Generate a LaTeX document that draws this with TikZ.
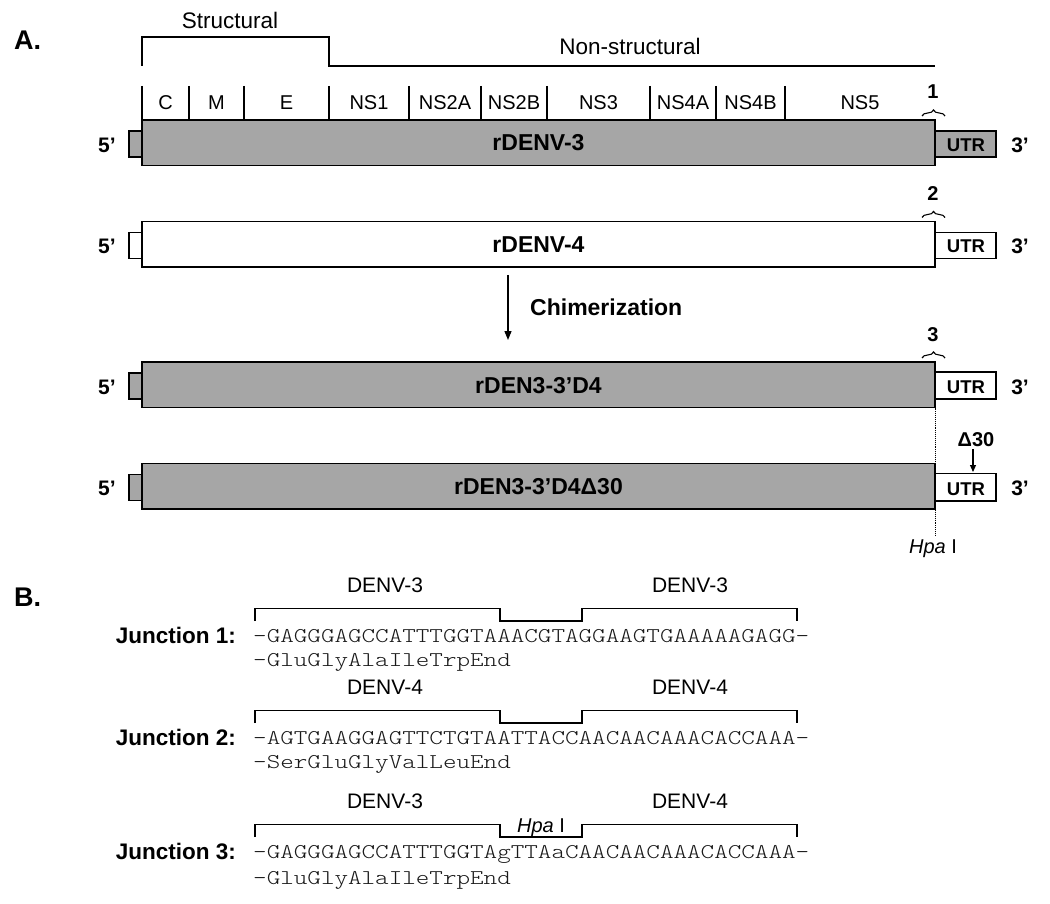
\documentclass[tikz,border=0pt]{standalone}
\usepackage{fontspec}
\setmainfont{Liberation Sans}
\newfontfamily\seqfont[FakeStretch=1.23]{lmmonolt10-regular.otf}
\usetikzlibrary{arrows.meta,decorations.pathreplacing}
\definecolor{orfgray}{RGB}{166,166,166}

\begin{document}
\begin{tikzpicture}[x=1pt,y=1pt,yscale=-1,
  every node/.style={inner sep=0pt},
  box/.style={draw,line width=1.3pt},
  tick/.style={line width=1.3pt},
  gene/.style={anchor=base,font=\fontsize{20}{24}\selectfont},
  region/.style={anchor=base,font=\fontsize{22.5}{26}\selectfont},
  virus/.style={anchor=base,font=\fontsize{23}{27}\selectfont\bfseries},
  prime/.style={anchor=base,font=\fontsize{21}{25}\selectfont\bfseries},
  utr/.style={anchor=base,font=\fontsize{18.5}{22}\selectfont\bfseries},
  jnum/.style={anchor=base,font=\fontsize{20}{24}\selectfont\bfseries},
  panel/.style={anchor=base west,font=\fontsize{27}{32}\selectfont\bfseries},
  jlabel/.style={anchor=base east,font=\fontsize{22.5}{26}\selectfont\bfseries},
  seq/.style={anchor=base west,text=black!90,font=\fontsize{21}{25}\selectfont\seqfont},
  denv/.style={anchor=base,font=\fontsize{21}{25}\selectfont},
  cbrace/.style={decorate,decoration={brace,amplitude=6pt},line width=1.1pt},
  jbracket/.style={line width=1.4pt},
]
\path[use as bounding box] (0,0) rectangle (1050,904);

% Panel labels
\node[panel] (pA) at (14,50) {A.};
\node[panel] (pB) at (14,606.5) {B.};

%Straight Lines: structural / non-structural bracket
\draw[tick] (142,66) -- (142,37) -- (329,37) -- (329,66) -- (935,66);
\node[region] (struct) at (230,28.5) {Structural};
\node[region] (nonstruct) at (630,55) {Non-structural};

%Straight Lines: gene boundaries
\foreach \x in {142,189,244,329,409,481,547,650,716,785}
  \draw[tick] (\x,86) -- (\x,120);
% Text Node: genes
\foreach \x/\g in {165.5/C,216.5/M,286.5/E,369/NS1,445/NS2A,514/NS2B,598.5/NS3,683/NS4A,750.5/NS4B,860/NS5}
  \node[gene] (g-\g) at (\x,110) {\g};

%Shape: Rectangle [rDENV-3]
\draw[box,fill=orfgray] (129,131) rectangle (142,157);
\draw[box,fill=orfgray] (142,120) rectangle (935,165.5);
\draw[box,fill=orfgray] (935,131) rectangle (996,157);
\node[virus] (d3) at (538.5,151) {rDENV-3};
\node[prime] (d3five) at (107,152.5) {5’};
\node[prime] (d3three) at (1020,152.5) {3’};
\node[utr] (d3utr) at (966,151.5) {UTR};
\draw[cbrace] (922,116) -- (945,116);
\node[jnum] (j1num) at (933,99) {1};

%Shape: Rectangle [rDENV-4]
\draw[box,fill=white] (129,232.5) rectangle (142,258.5);
\draw[box,fill=white] (142,221.5) rectangle (935,267);
\draw[box,fill=white] (935,232.5) rectangle (996,258.5);
\node[virus] (d4) at (538.5,252.5) {rDENV-4};
\node[prime] (d4five) at (107,254) {5’};
\node[prime] (d4three) at (1020,254) {3’};
\node[utr] (d4utr) at (966,253) {UTR};
\draw[cbrace] (922,217.5) -- (945,217.5);
\node[jnum] (j2num) at (933,200.5) {2};

% Chimerization arrow
\coordinate (chimtop) at (508,275);
\coordinate (chimbot) at (508,340);
\draw[line width=1.3pt,-{Triangle[length=9pt,width=7pt]}] (chimtop) -- (chimbot);
\node[anchor=base west,font=\fontsize{23}{27}\selectfont\bfseries] (chim) at (530,316) {Chimerization};

%Shape: Rectangle [rDEN3-3'D4]
\draw[box,fill=orfgray] (129,373) rectangle (142,399);
\draw[box,fill=orfgray] (142,362) rectangle (935,407.5);
\draw[box,fill=white] (935,372) rectangle (996,399);
\node[virus] (chim1) at (538.5,393) {rDEN3-3’D4};
\node[prime] (c1five) at (107,394) {5’};
\node[prime] (c1three) at (1020,394) {3’};
\node[utr] (c1utr) at (966,393.5) {UTR};
\draw[cbrace] (922,358) -- (945,358);
\node[jnum] (j3num) at (933,341) {3};

%Shape: Rectangle [rDEN3-3'D4d30]
\draw[box,fill=orfgray] (129,474.5) rectangle (142,500.5);
\draw[box,fill=orfgray] (142,463.5) rectangle (935,509);
\draw[box,fill=white] (935,473.5) rectangle (996,501);
\node[virus] (chim2) at (538.5,494.5) {rDEN3-3’D4Δ30};
\node[prime] (c2five) at (107,495.5) {5’};
\node[prime] (c2three) at (1020,495.5) {3’};
\node[utr] (c2utr) at (966,495) {UTR};

% Delta 30 arrow
\node[jnum] (del) at (976,446.5) {Δ30};
\coordinate (deltip) at (973,472);
\draw[line width=1.2pt,-{Triangle[length=7pt,width=6pt]}] (973,449) -- (deltip);

% Hpa I site
\coordinate (hpatop) at (935,407.5);
\coordinate (hpabot) at (935,535);
\draw[line width=0.9pt,densely dotted] (hpatop) -- (hpabot);
\node[anchor=base,font=\fontsize{20}{24}\selectfont] (hpa) at (933,553) {\textit{Hpa} I};

% Junction 1
\draw[jbracket] (255,621) -- (255,608.5) -- (500,608.5) -- (500,621) -- (582,621) -- (582,608.5) -- (797,608.5) -- (797,621);
\node[denv] (j1a) at (385,592) {DENV-3};
\node[denv] (j1b) at (690,592) {DENV-3};
\node[jlabel] (j1) at (236,643.5) {Junction 1:};
\node[seq] (j1seq) at (253,642) {-GAGGGAGCCATTTGGTAAACGTAGGAAGTGAAAAAGAGG-};
\node[seq] (j1aa) at (253,666) {-GluGlyAlaIleTrpEnd};

% Junction 2
\draw[jbracket] (255,723) -- (255,710.5) -- (500,710.5) -- (500,723) -- (582,723) -- (582,710.5) -- (797,710.5) -- (797,723);
\node[denv] (j2a) at (385,694) {DENV-4};
\node[denv] (j2b) at (690,694) {DENV-4};
\node[jlabel] (j2) at (236,745.5) {Junction 2:};
\node[seq] (j2seq) at (253,744) {-AGTGAAGGAGTTCTGTAATTACCAACAACAAACACCAAA-};
\node[seq] (j2aa) at (253,768) {-SerGluGlyValLeuEnd};

% Junction 3
\draw[jbracket] (255,837) -- (255,824.5) -- (500,824.5) -- (500,837) -- (582,837) -- (582,824.5) -- (797,824.5) -- (797,837);
\node[denv] (j3a) at (385,808) {DENV-3};
\node[denv,font=\fontsize{20}{24}\selectfont] (j3h) at (541,832) {\textit{Hpa} I};
\node[denv] (j3b) at (690,808) {DENV-4};
\node[jlabel] (j3) at (236,859.5) {Junction 3:};
\node[seq] (j3seq) at (253,858) {-GAGGGAGCCATTTGGTAgTTAaCAACAACAAACACCAAA-};
\node[seq] (j3aa) at (253,884) {-GluGlyAlaIleTrpEnd};

\end{tikzpicture}
\end{document}
